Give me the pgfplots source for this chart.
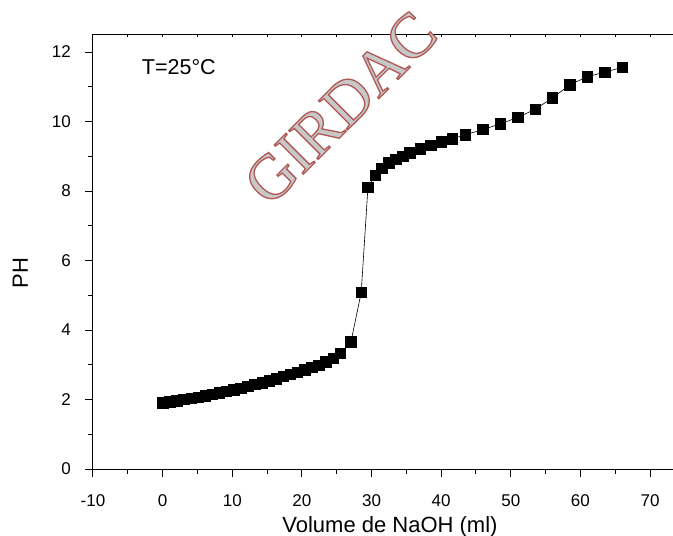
\documentclass[border=0pt]{standalone}
\usepackage{pgfplots}
\pgfplotsset{compat=1.18}
\usepackage{fontspec}
\setmainfont{Liberation Sans}
\newfontfamily\wmfont{Liberation Serif}
\definecolor{wmgray}{RGB}{200,200,200}

\begin{document}
\begin{tikzpicture}
\begin{axis}[
  name=main,
  scale only axis, width=580pt, height=434.7pt,
  xmin=-10, xmax=73.3, ymin=0, ymax=12.51,
  axis x line*=bottom, axis y line*=left,
  axis line style={-, line width=1pt},
  xtick={-10,0,...,70}, ytick={0,2,...,12},
  minor x tick num=1, minor y tick num=1,
  tick align=outside,
  major tick length=8pt, minor tick length=5pt,
  tick style={line width=1pt, black},
  /pgf/number format/assume math mode=true,
  ticklabel style={font=\fontsize{17}{20}\selectfont},
  xticklabel style={anchor=base, inner sep=0pt, yshift=-29pt},
  yticklabel style={anchor=east, inner sep=0pt, xshift=-14pt},
  every axis x label/.style={at={(rel axis cs:0.512,0)}, anchor=base, yshift=-63pt, inner sep=0pt, font=\fontsize{22}{25}\selectfont},
  every axis y label/.style={at={(axis description cs:-0.112,0.45)}, rotate=90, anchor=south, inner sep=0pt, font=\fontsize{22}{25}\selectfont},
  xlabel={Volume de NaOH (ml)}, ylabel={PH},
  clip=false,
]
\coordinate (O) at (rel axis cs:0,0);
\coordinate (wm) at (axis cs:25.55,10.39);
\addplot[black, line width=0.6pt, mark=square*, mark size=5.2pt, mark options={solid, fill=black, draw=none}] coordinates {
(0,1.90) (1.02,1.93) (2.04,1.96) (3.06,2.00) (4.08,2.03) (5.10,2.07) (6.12,2.11) (7.14,2.15) (8.16,2.19) (9.18,2.24) (10.20,2.28) (11.22,2.33) (12.24,2.38) (13.26,2.43) (14.28,2.48) (15.30,2.54) (16.32,2.60) (17.34,2.66) (18.36,2.72) (19.38,2.78) (20.40,2.85) (21.42,2.92) (22.44,2.99) (23.46,3.09) (24.48,3.19) (25.50,3.33) (27.05,3.66) (28.52,5.08) (29.49,8.11) (30.54,8.45) (31.45,8.66) (32.46,8.81) (33.5,8.92) (34.5,9.00) (35.5,9.10) (37.0,9.21) (38.5,9.31) (40.0,9.42) (41.6,9.50) (43.5,9.62) (46.0,9.77) (48.5,9.93) (51.0,10.12) (53.5,10.35) (56.0,10.68) (58.5,11.06) (61.0,11.29) (63.5,11.42) (66.0,11.56)
};
\node[anchor=base west, inner sep=0pt, font=\fontsize{21.5}{25}\selectfont] at (axis cs:-3.0,11.34) {T=25°C};
\end{axis}
\begin{axis}[
  scale only axis, width=580pt, height=434.7pt,
  xmin=-10, xmax=73.3, ymin=0, ymax=1,
  axis x line*=top, axis y line=none,
  axis line style={-, line width=1pt},
  xtick={-10,-5,...,70}, xticklabels={},
  tick align=inside, major tick length=3pt,
  tick style={line width=1pt, black},
]
\end{axis}
\node[font=\wmfont\fontsize{63}{63}\selectfont, text=wmgray, rotate=45, inner sep=0pt] at (wm)
  {\special{pdf:literal 1.3 w 0.69 0.345 0.337 RG 2 Tr}GIRDAC\special{pdf:literal 0 Tr}};
\pgfresetboundingbox
\path[use as bounding box] ([shift={(-93pt,-67pt)}]O) rectangle ([shift={(580pt,469pt)}]O);
\end{tikzpicture}
\end{document}
